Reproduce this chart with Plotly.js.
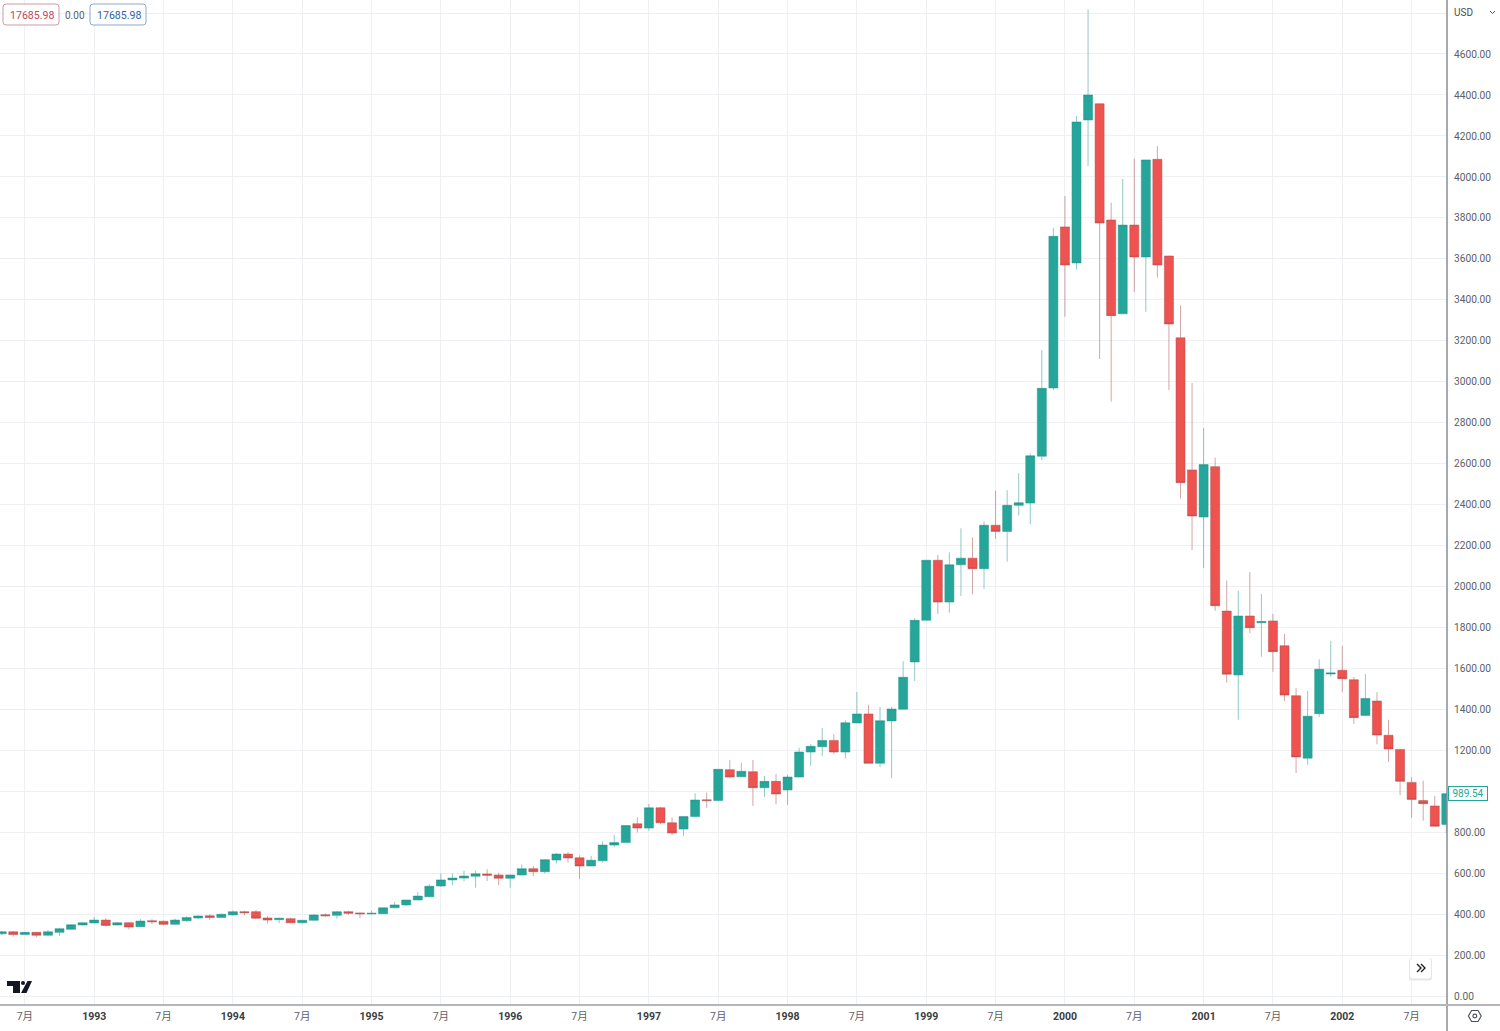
<!DOCTYPE html>
<html><head><meta charset="utf-8">
<script src="https://cdn.plot.ly/plotly-3.0.1.min.js"></script>
<style>html,body{margin:0;padding:0;background:#fff;overflow:hidden}#c{width:1500px;height:1031px}</style>
</head><body><div id="c"></div>
<script>
const months = [
"1992-05","1992-06","1992-07","1992-08","1992-09","1992-10","1992-11","1992-12",
"1993-01","1993-02","1993-03","1993-04","1993-05","1993-06","1993-07","1993-08","1993-09","1993-10","1993-11","1993-12",
"1994-01","1994-02","1994-03","1994-04","1994-05","1994-06","1994-07","1994-08","1994-09","1994-10","1994-11","1994-12",
"1995-01","1995-02","1995-03","1995-04","1995-05","1995-06","1995-07","1995-08","1995-09","1995-10","1995-11","1995-12",
"1996-01","1996-02","1996-03","1996-04","1996-05","1996-06","1996-07","1996-08","1996-09","1996-10","1996-11","1996-12",
"1997-01","1997-02","1997-03","1997-04","1997-05","1997-06","1997-07","1997-08","1997-09","1997-10","1997-11","1997-12",
"1998-01","1998-02","1998-03","1998-04","1998-05","1998-06","1998-07","1998-08","1998-09","1998-10","1998-11","1998-12",
"1999-01","1999-02","1999-03","1999-04","1999-05","1999-06","1999-07","1999-08","1999-09","1999-10","1999-11","1999-12",
"2000-01","2000-02","2000-03","2000-04","2000-05","2000-06","2000-07","2000-08","2000-09","2000-10","2000-11","2000-12",
"2001-01","2001-02","2001-03","2001-04","2001-05","2001-06","2001-07","2001-08","2001-09","2001-10","2001-11","2001-12",
"2002-01","2002-02","2002-03","2002-04","2002-05","2002-06","2002-07","2002-08","2002-09","2002-10"];
const opens = [
306,316,302,313,299,313,328,349,
359,373,349,360,341,370,367,352,370,383,394,386,
398,414,414,383,375,380,360,372,399,396,414,408,
403,404,433,447,471,487,539,569,578,587,598,593,
577,593,624,609,666,695,677,637,663,739,751,843,
822,921,848,817,878,960,956,1107,1073,1097,1019,1050,
1008,1071,1193,1219,1250,1193,1335,1379,1138,1345,1402,1633,
1836,2129,1925,2107,2139,2088,2300,2270,2397,2408,2637,2970,
3756,3580,4278,4357,3790,3332,3765,3609,4086,3614,3215,2570,
2340,2586,1881,1569,1857,1824,1833,1712,1468,1163,1380,1574,
1592,1546,1372,1442,1275,1206,1045,956,930,840];
const highs = [
320,320,315,315,325,336,352,362,
388,382,363,364,378,378,371,380,391,395,401,405,
419,419,422,393,384,385,373,403,406,417,419,409,
419,434,463,472,509,548,601,601,614,614,621,604,
594,645,637,669,700,705,689,686,757,788,837,875,
939,926,875,879,992,995,1110,1153,1141,1154,1076,1086,
1082,1214,1232,1310,1281,1348,1486,1424,1414,1414,1636,1846,
2130,2155,2168,2285,2241,2319,2469,2471,2554,2651,3155,3751,
3907,4297,4818,4358,3874,3990,4089,4084,4151,3615,3373,2994,
2775,2630,2029,1981,2072,1964,1867,1769,1506,1491,1646,1735,
1711,1559,1574,1485,1351,1207,1070,1053,979,992];
const lows = [
300,292,300,289,296,295,326,347,
357,341,347,328,339,354,349,350,364,378,373,385,
396,396,377,357,357,357,356,370,389,380,398,382,
401,403,430,442,470,486,534,544,562,531,564,544,
531,592,588,601,650,653,573,636,653,728,750,801,
809,840,788,783,877,921,955,1065,1072,930,974,938,
935,1070,1125,1174,1184,1161,1334,1137,1120,1066,1401,1540,
1835,1867,1873,1955,1963,1990,2234,2122,2348,2305,2617,2960,
3318,3549,4053,3111,2903,3331,3438,3342,3508,2960,2430,2179,
2091,1883,1532,1351,1774,1658,1585,1442,1091,1131,1364,1561,
1485,1331,1371,1231,1145,983,873,858,830,798];
const closes = [
316,302,313,299,316,331,350,360,
373,347,360,339,368,365,352,373,385,393,386,401,
414,409,382,373,382,360,372,398,394,414,406,404,
406,433,447,471,490,538,569,578,588,599,592,577,
593,624,609,668,695,676,637,665,739,751,834,822,
921,848,798,878,959,956,1109,1071,1099,1019,1050,988,
1071,1193,1221,1250,1193,1336,1379,1138,1346,1403,1558,1836,
2129,1925,2107,2139,2088,2300,2270,2397,2410,2639,2968,3710,
3570,4268,4400,3775,3323,3765,3609,4083,3570,3282,2508,2345,
2596,1907,1573,1857,1800,1830,1683,1471,1169,1368,1597,1579,
1551,1361,1455,1276,1208,1050,962,941,831,990];
const xTickMonths = ["1992-07","1993-01","1993-07","1994-01","1994-07","1995-01","1995-07","1996-01","1996-07","1997-01","1997-07","1998-01","1998-07","1999-01","1999-07","2000-01","2000-07","2001-01","2001-07","2002-01","2002-07"];
const xTickLabels = ["7月","1993","7月","1994","7月","1995","7月","1996","7月","1997","7月","1998","7月","1999","7月","2000","7月","2001","7月","2002","7月"];
const yTickValues = [0,200,400,600,800,1000,1200,1400,1600,1800,2000,2200,2400,2600,2800,3000,3200,3400,3600,3800,4000,4200,4400,4600,4800];
const yTickLabels = ["0.00","200.00","400.00","600.00","800.00","","1200.00","1400.00","1600.00","1800.00","2000.00","2200.00","2400.00","2600.00","2800.00","3000.00","3200.00","3400.00","3600.00","3800.00","4000.00","4200.00","4400.00","4600.00",""];
const lastPrice = 989.54, legendValue = "17685.98", legendChange = "0.00";

const W=1447,H=1005,FONT='Roboto, "Noto Sans CJK SC", sans-serif';
const GREEN='#26a69a',RED='#ef5350';
const px=x=>x/W, py=y=>1-y/H;
function pth(pts,close){return pts.map((p,i)=>(i?'L':'M')+px(p[0])+' '+py(p[1])).join(' ')+(close?' Z':'');}
function rr(x0,y0,x1,y1,r){
  const X=px,Y=py;
  return `M${X(x0+r)} ${Y(y0)} L${X(x1-r)} ${Y(y0)} Q${X(x1)} ${Y(y0)} ${X(x1)} ${Y(y0+r)} L${X(x1)} ${Y(y1-r)} Q${X(x1)} ${Y(y1)} ${X(x1-r)} ${Y(y1)} L${X(x0+r)} ${Y(y1)} Q${X(x0)} ${Y(y1)} ${X(x0)} ${Y(y1-r)} L${X(x0)} ${Y(y0+r)} Q${X(x0)} ${Y(y0)} ${X(x0+r)} ${Y(y0)} Z`;
}
const S=(path,fill,line,w)=>({type:'path',xref:'paper',yref:'paper',path,fillcolor:fill||'rgba(0,0,0,0)',line:{color:line||'rgba(0,0,0,0)',width:w||0},layer:'above'});
const hex=[];for(let i=0;i<6;i++){const a=Math.PI/3*i;hex.push([1474.8+6.4*Math.cos(a),1016+6.4*Math.sin(a)]);}
const shapes=[
  S(pth([[1447,0],[1447,1031]]),null,'#8a8d92',1.5),
  S(pth([[0,1005],[1500,1005]]),null,'#b4b6b9',2),
  S(rr(3,4,59,25,3),'rgba(255,255,255,0.9)','#cf9aa2',1),
  S(rr(90,4,146,25,3),'rgba(255,255,255,0.9)','#8fa9cf',1),
  S(rr(1409,958,1432,980.5,3),'#e6e6ea',null,0),
  S(rr(1410,958,1431,978.5,3),'#ffffff',null,0),
  S(pth([[1417,964],[1421,968],[1417,972]]),null,'#222',1.4),
  S(pth([[1421,964],[1425,968],[1421,972]]),null,'#222',1.4),
  S(pth([[7,981],[20,981],[20,993],[13,993],[13,986],[7,986]],true),'#131722',null,0),
  S(pth([[27.5,981],[32,981],[26.5,993],[21,993]],true),'#131722',null,0),
  {type:'circle',xref:'paper',yref:'paper',x0:px(21),x1:px(25),y0:py(985),y1:py(981),fillcolor:'#131722',line:{width:0},layer:'above'},
  S(pth(hex,true),null,'#4a4d52',1.1),
  {type:'circle',xref:'paper',yref:'paper',x0:px(1472.9),x1:px(1476.7),y0:py(1017.9),y1:py(1014.1),fillcolor:'rgba(0,0,0,0)',line:{color:'#4a4d52',width:1.1},layer:'above'},
  S(pth([[1490,11],[1492.5,13.5],[1495,11]]),null,'#555',1)
];
const A=(x,y,text,color,size,xanchor)=>({xref:'paper',yref:'paper',x:px(x),y:py(y),text,showarrow:false,xanchor:xanchor||'center',yanchor:'middle',font:{family:FONT,size:size||11,color}});
const annotations=[
  A(32,15,legendValue,'#c0465a',10.6),
  A(75,15,legendChange,'#5d6066',10),
  A(119,15,legendValue,'#2f62ad',10.6),
  A(1452,12,'USD','#4a4d52',10,'left'),
  {xref:'paper',yref:'y',x:px(1447.5),y:lastPrice,xanchor:'left',yanchor:'middle',showarrow:false,text:'<span> '+lastPrice.toFixed(2)+' </span>',
   font:{family:FONT,size:10,color:GREEN},bgcolor:'#fff',bordercolor:GREEN,borderwidth:1,borderpad:1}
];
const trace={type:'candlestick',x:months,open:opens,high:highs,low:lows,close:closes,whiskerwidth:0,
  increasing:{line:{color:'rgba(38,150,140,0.5)',width:1},fillcolor:GREEN},
  decreasing:{line:{color:'rgba(170,80,80,0.5)',width:1},fillcolor:RED},hoverinfo:'skip',showlegend:false};
const layout={width:1500,height:1031,margin:{l:0,r:53,t:0,b:26,pad:0},paper_bgcolor:'#fff',plot_bgcolor:'#fff',showlegend:false,boxgap:0.22,boxgroupgap:0,
  font:{family:FONT},
  xaxis:{type:'category',categoryorder:'array',categoryarray:months,range:[-0.15,125.06],rangeslider:{visible:false},
    tickmode:'array',tickvals:xTickMonths,
    ticktext:xTickLabels.map(t=>/月/.test(t)?`<span style="color:#5d6066">${t}</span>`:`<b style="color:#3a3d42">${t}</b>`),
    tickangle:0,showgrid:true,gridcolor:'#eff0f3',gridwidth:1,zeroline:false,showline:false,ticks:'outside',ticklen:1,tickcolor:'rgba(0,0,0,0)',tickfont:{family:FONT,size:10.5,color:'#5d6066'}},
  yaxis:{side:'right',range:[-41.5,4863.5],fixedrange:true,tickmode:'array',tickvals:yTickValues,ticktext:yTickLabels,
    showgrid:true,gridcolor:'#eff0f3',gridwidth:1,zeroline:false,showline:false,ticks:'outside',ticklen:4,tickcolor:'rgba(0,0,0,0)',tickfont:{family:FONT,size:10.2,color:'#5d6066'}},
  shapes,annotations};
Plotly.newPlot('c',[trace],layout,{displayModeBar:false,staticPlot:true});
</script></body></html>
